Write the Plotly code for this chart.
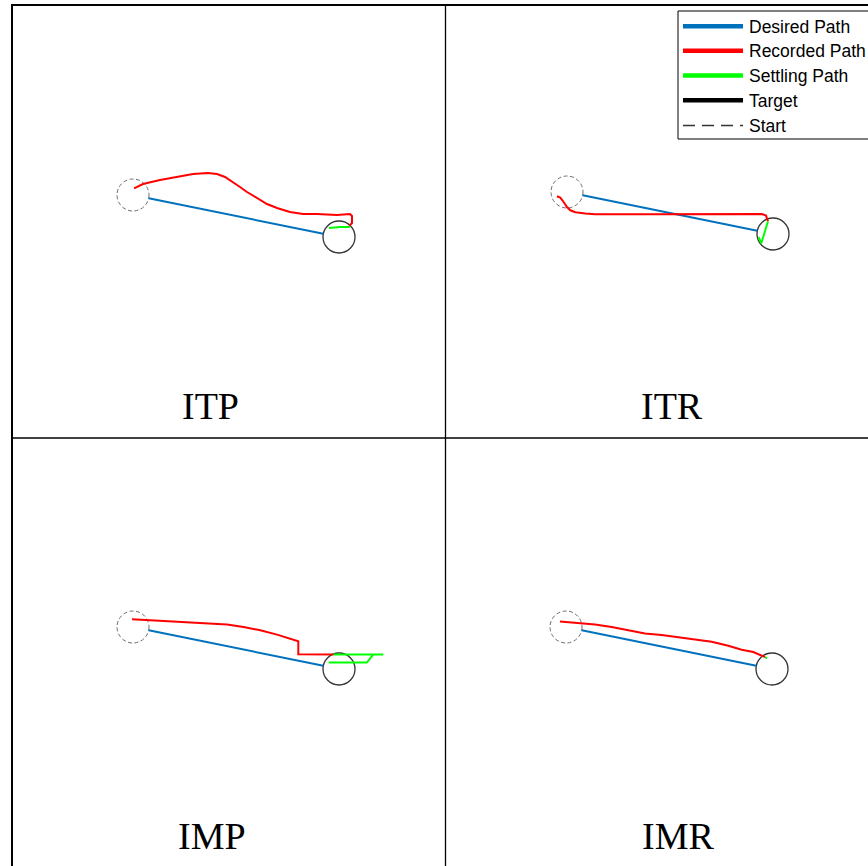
import plotly.graph_objects as go

W, H = 868, 866

# Reach geometry in mm: start at the origin, target offset, circle radius
TARGET_X, TARGET_Y = 206.0, -42.0
RADIUS = 16.0
DESIRED_X = [15.7, 190.3]
DESIRED_Y = [-3.2, -38.8]

PANEL_NAMES = ["ITP", "ITR", "IMP", "IMR"]

# Recorded hand paths (mm)
ITP_REC_X = [1, 10, 27, 44, 60, 75, 84, 92, 100, 107, 114, 124, 134, 144, 157, 170, 184, 204, 217, 219, 219, 217, 216.5]
ITP_REC_Y = [6.7, 11, 15, 18, 21, 22, 21, 18, 13, 8, 3, -3, -9, -13, -17, -19, -19, -20, -19, -21, -28, -30, -31]
ITP_SET_X = [216.5, 216, 207, 196]
ITP_SET_Y = [-31, -32, -32, -33]

ITR_REC_X = [-10, -6.7, -3.4, 0, 3.3, 8.3, 18.3, 28.3, 78.3, 128.3, 178.3, 195, 199, 200, 201]
ITR_REC_Y = [-4.3, -5.6, -10, -15, -18.3, -20.3, -21.6, -22.3, -22.3, -22, -21.6, -22, -23.6, -27.6, -29.3]
ITR_SET_X = [201, 194.3, 191.6]
ITR_SET_Y = [-29.3, -51.3, -45]

IMP_REC_X = [-1, 17.3, 44, 77.3, 94, 110.6, 127.3, 144, 157.3, 165.3, 165.3, 177.3, 200.6]
IMP_REC_Y = [7.7, 6.7, 5, 3.4, 2.4, 0, -3.3, -7.6, -11.6, -14.3, -27.3, -27.3, -27.6]
IMP_SET_X = [200.6, 250.3, 240.3, 233.8, 195.6]
IMP_SET_Y = [-27.6, -27.6, -27.6, -35.6, -35.6]

IMR_REC_X = [-6, 5.7, 15.7, 29, 45.7, 62.3, 79, 95.7, 112.3, 129, 145.7, 162.3, 175.7, 187.3, 194, 199]
IMR_REC_Y = [5.6, 4.6, 4, 2.6, 0, -3.4, -6.4, -8, -10, -12, -14.7, -18.7, -22.7, -25, -27.7, -30]
IMR_SET_X = [199, 201]
IMR_SET_Y = [-30, -31.3]

RECORDED = [(ITP_REC_X, ITP_REC_Y), (ITR_REC_X, ITR_REC_Y), (IMP_REC_X, IMP_REC_Y), (IMR_REC_X, IMR_REC_Y)]
SETTLING = [(ITP_SET_X, ITP_SET_Y), (ITR_SET_X, ITR_SET_Y), (IMP_SET_X, IMP_SET_Y), (IMR_SET_X, IMR_SET_Y)]

LEGEND_LABELS = ["Desired Path", "Recorded Path", "Settling Path", "Target", "Start"]

BLUE, RED, GREEN = "#0072BD", "#FF0000", "#00FF00"

# Panel frames in page pixels and the pixel position of each start point
COLS = [(12, 446), (446, 868)]
ROWS = [(5, 438), (438, 866)]
ORIGINS = [(133, 195), (567, 192), (133, 627), (566, 627)]
LABEL_POS = [(77.5, -211), (104.7, -214), (78.7, -209), (111.5, -209)]

fig = go.Figure()
layout = dict(
    width=W, height=H,
    margin=dict(l=0, r=0, t=0, b=0, pad=0, autoexpand=False),
    paper_bgcolor="white", plot_bgcolor="white",
    showlegend=False,
    shapes=[], annotations=[],
)

for i, name in enumerate(PANEL_NAMES):
    r, c = divmod(i, 2)
    x0, x1 = COLS[c]
    y0, y1 = ROWS[r]
    sx, sy = ORIGINS[i]
    suffix = "" if i == 0 else str(i + 1)
    xa, ya = "x" + suffix, "y" + suffix
    layout["xaxis" + suffix] = dict(domain=[x0 / W, x1 / W], range=[x0 - sx, x1 - sx],
                                    visible=False, fixedrange=True, anchor=ya)
    layout["yaxis" + suffix] = dict(domain=[1 - y1 / H, 1 - y0 / H], range=[sy - y1, sy - y0],
                                    visible=False, fixedrange=True, anchor=xa)

    fig.add_trace(go.Scatter(x=DESIRED_X, y=DESIRED_Y, mode="lines", xaxis=xa, yaxis=ya,
                             name=LEGEND_LABELS[0], line=dict(color=BLUE, width=2), hoverinfo="skip"))
    rx, ry = RECORDED[i]
    fig.add_trace(go.Scatter(x=rx, y=ry, mode="lines", xaxis=xa, yaxis=ya,
                             name=LEGEND_LABELS[1], line=dict(color=RED, width=2), hoverinfo="skip"))
    gx, gy = SETTLING[i]
    fig.add_trace(go.Scatter(x=gx, y=gy, mode="lines", xaxis=xa, yaxis=ya,
                             name=LEGEND_LABELS[2], line=dict(color=GREEN, width=2), hoverinfo="skip"))

    # start (dashed) and target (solid) circles
    layout["shapes"].append(dict(type="circle", xref=xa, yref=ya, layer="below",
                                 x0=-RADIUS, x1=RADIUS, y0=-RADIUS, y1=RADIUS,
                                 line=dict(color="#6e6e6e", width=1, dash="4px,2.5px")))
    layout["shapes"].append(dict(type="circle", xref=xa, yref=ya, layer="below",
                                 x0=TARGET_X - RADIUS, x1=TARGET_X + RADIUS,
                                 y0=TARGET_Y - RADIUS, y1=TARGET_Y + RADIUS,
                                 line=dict(color="#333333", width=1.3)))

    lx, ly = LABEL_POS[i]
    layout["annotations"].append(dict(text=name, x=lx, y=ly, xref=xa, yref=ya, showarrow=False,
                                      xanchor="center", yanchor="middle",
                                      font=dict(family="Liberation Serif", size=38, color="black")))


def px_x(v):
    return v / W


def px_y(v):
    return 1 - v / H


# legend box with line samples and labels
LEG_LEFT, LEG_TOP, LEG_BOTTOM = 678, 11, 139
LEG_ROWS = [26.3, 50.8, 75.6, 100.2, 125.6]
LEG_STYLES = [(BLUE, 4.5, "solid"), (RED, 4.5, "solid"), (GREEN, 4.5, "solid"),
              ("black", 4.5, "solid"), ("#333333", 1.5, "12px,7px")]

layout["shapes"].append(dict(type="rect", xref="paper", yref="paper", layer="above",
                             x0=px_x(LEG_LEFT), x1=px_x(LEG_LEFT + 215),
                             y0=px_y(LEG_BOTTOM), y1=px_y(LEG_TOP),
                             fillcolor="white", line=dict(color="black", width=1)))
for label, yrow, (color, width, dash) in zip(LEGEND_LABELS, LEG_ROWS, LEG_STYLES):
    layout["shapes"].append(dict(type="line", xref="paper", yref="paper", layer="above",
                                 x0=px_x(683), x1=px_x(743), y0=px_y(yrow), y1=px_y(yrow),
                                 line=dict(color=color, width=width, dash=dash)))
    layout["annotations"].append(dict(text=label, x=px_x(747), y=px_y(yrow + 0.5),
                                      xref="paper", yref="paper", showarrow=False,
                                      xanchor="left", yanchor="middle",
                                      font=dict(family="Liberation Sans", size=17.5, color="black")))


# outer frame and panel dividers
def frame_line(xa0, ya0, xa1, ya1, w):
    return dict(type="line", xref="paper", yref="paper", layer="above",
                x0=px_x(xa0), x1=px_x(xa1), y0=px_y(ya0), y1=px_y(ya1),
                line=dict(color="black", width=w))


layout["shapes"] += [
    frame_line(11, 5, 868, 5, 2),
    frame_line(12, 4, 12, 866, 2),
    frame_line(445.5, 5, 445.5, 866, 1.3),
    frame_line(12, 438, 868, 438, 1.5),
]

fig.update_layout(**layout)
fig.write_html("out.html")
